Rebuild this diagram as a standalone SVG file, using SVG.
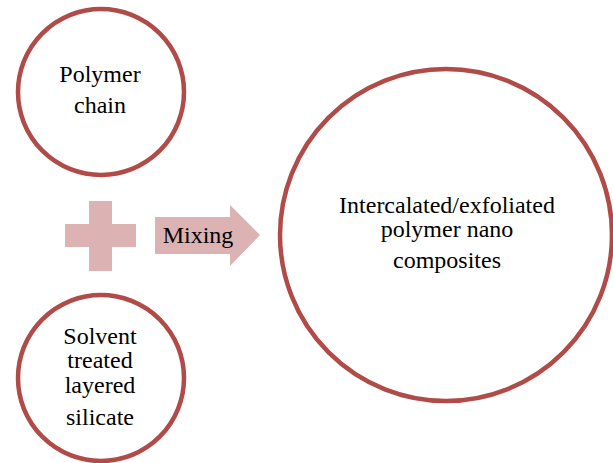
<svg xmlns="http://www.w3.org/2000/svg" width="613" height="463" viewBox="0 0 613 463">
<style>
.c{fill:#fff;stroke:#b04b48;stroke-width:4.5}
.t{font-family:'Liberation Serif','DejaVu Serif',serif;font-size:24px;fill:#000;text-anchor:middle}
.s{fill:#dcb2b2}
</style>
<rect width="613" height="463" fill="#fff"/>
<g id="polymer-chain">
<circle class="c" cx="101" cy="92" r="83"/>
<text class="t" x="100" y="82">Polymer</text>
<text class="t" x="100" y="113">chain</text>
</g>
<g id="plus">
<rect class="s" x="65" y="224" width="71" height="23"/>
<rect class="s" x="89" y="201" width="23" height="70"/>
</g>
<g id="silicate">
<circle class="c" cx="101" cy="378" r="83"/>
<text class="t" x="100" y="344">Solvent</text>
<text class="t" x="100" y="368">treated</text>
<text class="t" x="100" y="393">layered</text>
<text class="t" x="100" y="425">silicate</text>
</g>
<g id="connectors">
<g id="mixing">
<polygon class="s" points="155,217 230,217 230,205 260,235 230,266 230,254 155,254"/>
<text class="t" x="198" y="243">Mixing</text>
</g>
</g>
<g id="nanocomposites">
<circle class="c" cx="446" cy="235" r="166"/>
<text class="t" x="447" y="213">Intercalated/exfoliated</text>
<text class="t" x="447" y="237">polymer nano</text>
<text class="t" x="447" y="268">composites</text>
</g>
</svg>
